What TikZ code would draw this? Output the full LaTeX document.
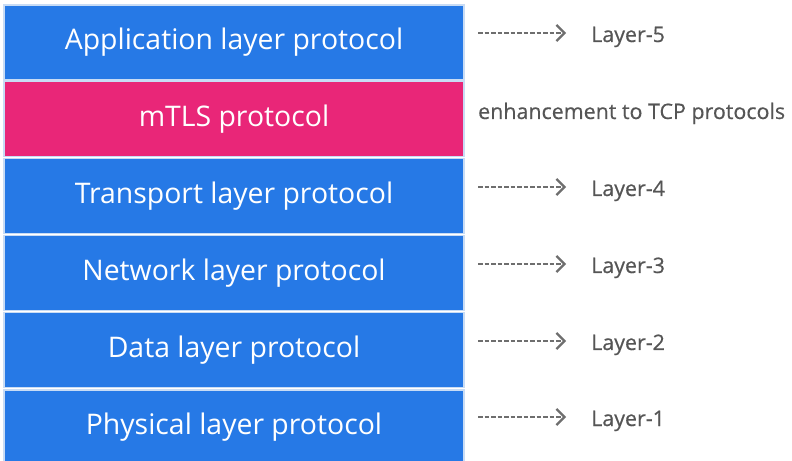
\documentclass[tikz,border=0pt]{standalone}
\usepackage{fontspec}
\setmainfont{Open Sans}
\newfontfamily\labfont[FakeBold=0.5]{Open Sans}
\usetikzlibrary{arrows.meta}
\definecolor{layblue}{RGB}{38,121,230}
\definecolor{laypink}{RGB}{233,38,120}
\definecolor{edgec}{RGB}{200,220,245}
\definecolor{labgray}{RGB}{85,85,85}
\begin{document}
\begin{tikzpicture}[x=1bp,y=-1bp,
  layerbox/.style={draw=edgec,line width=1.2bp,minimum width=460bp,minimum height=75bp,inner sep=0,
    text=white,font=\fontsize{28.5}{34}\selectfont},
  bluebox/.style={layerbox,fill=layblue},
  pinkbox/.style={layerbox,fill=laypink},
  laylabel/.style={anchor=base west,inner sep=0,text=labgray,font=\labfont\fontsize{21.5}{26}\selectfont},
  dasharrow/.style={draw=labgray!85,line width=1.3bp,dash pattern=on 4.5bp off 2bp,
    -{Straight Barb[length=8bp,width=16bp,line width=2.2bp]},shorten >=25bp}]
\useasboundingbox (0,0) rectangle (792,461);
\fill[white] (0,0) rectangle (792,461);
\begin{scope}
\clip (0,0) rectangle (792,461);
\node[bluebox] (app) at (234,42.5) {Application layer protocol};
\node[pinkbox] (mtls) at (234,118.7) {mTLS protocol};
\node[bluebox] (trans) at (234,195.9) {Transport layer protocol};
\node[bluebox] (net) at (234,273.1) {Network layer protocol};
\node[bluebox] (data) at (234,350.3) {Data layer protocol};
\node[bluebox,minimum height=75bp] (phys) at (234,427.5) {\raisebox{2bp}{Physical layer protocol}};
\end{scope}
\node[laylabel] (l5) at (591,42) {Layer-5};
\node[laylabel] (enh) at (478,119) {enhancement to TCP protocols};
\node[laylabel] (l4) at (591,196) {Layer-4};
\node[laylabel] (l3) at (591,273) {Layer-3};
\node[laylabel] (l2) at (591,350) {Layer-2};
\node[laylabel] (l1) at (591,426) {Layer-1};
\coordinate (s5) at (478,33);
\coordinate (s4) at (478,187);
\coordinate (s3) at (478,264);
\coordinate (s2) at (478,341);
\coordinate (s1) at (478,417);
\draw[dasharrow] (s5) -- (s5 -| l5.west);
\draw[dasharrow] (s4) -- (s4 -| l4.west);
\draw[dasharrow] (s3) -- (s3 -| l3.west);
\draw[dasharrow] (s2) -- (s2 -| l2.west);
\draw[dasharrow] (s1) -- (s1 -| l1.west);
\end{tikzpicture}
\end{document}
